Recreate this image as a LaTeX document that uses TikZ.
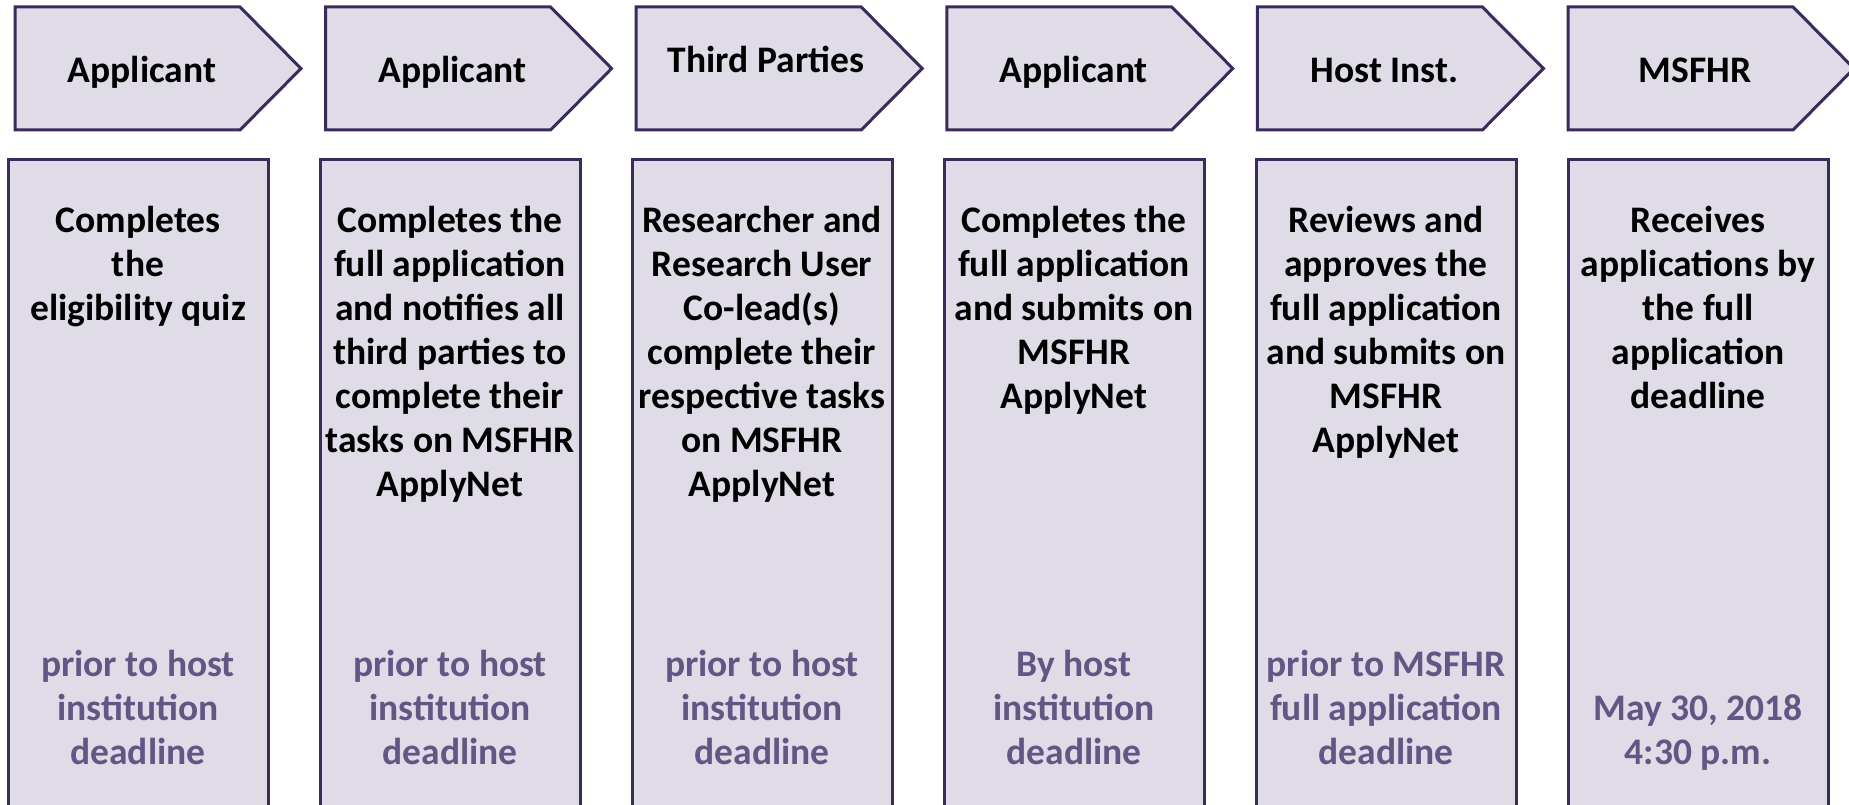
\documentclass[tikz,border=0pt]{standalone}
\usepackage{fontspec}
\setmainfont{Carlito}
\definecolor{boxfill}{HTML}{DFDBE7}
\definecolor{boxline}{HTML}{3B2A5C}
\definecolor{datecol}{HTML}{645684}
\tikzset{
  panel/.style={fill=boxfill, draw=boxline, line width=3pt, line join=miter},
  headtext/.style={font=\fontsize{37.5}{44}\selectfont\bfseries, inner sep=0pt, anchor=base},
  bodytext/.style={font=\fontsize{37.5}{44}\selectfont\bfseries, inner sep=0pt, anchor=north, align=center},
  datetext/.style={font=\fontsize{37.5}{44}\selectfont\bfseries, inner sep=0pt, anchor=south, align=center, text=datecol}
}
\begin{document}
\begin{tikzpicture}[x=1pt,y=-1pt]
\useasboundingbox (0,0) rectangle (1849,805);
\foreach \i in {0,...,5} {
  \pgfmathsetmacro\L{15+310.6*\i}
  \pgfmathsetmacro\B{8+312*\i}
  \draw[panel] (\L,7) -- (\L+225,7) -- (\L+286,68.5) -- (\L+225,130) -- (\L,130) -- cycle;
  \draw[panel] (\B,160) rectangle (\B+260,830);
}
% headers
\node[headtext] (h1) at (142,83) {Applicant};
\node[headtext] (h2) at (452.6,83) {Applicant};
\node[headtext] (h3) at (766,73) {Third Parties};
\node[headtext] (h4) at (1073.8,83) {Applicant};
\node[headtext] (h5) at (1384.4,83) {Host Inst.};
\node[headtext] (h6) at (1695,83) {MSFHR};
% body
\node[bodytext] (b1) at (138,201.2) {\strut Completes\\the\\eligibility quiz};
\node[bodytext] (b2) at (450,201.2) {\strut Completes the\\full application\\and notifies all\\third parties to\\complete their\\tasks on MSFHR\\ApplyNet};
\node[bodytext] (b3) at (762,201.2) {\strut Researcher and\\Research User\\Co-lead(s)\\complete their\\respective tasks\\on MSFHR\\ApplyNet};
\node[bodytext] (b4) at (1074,201.2) {\strut Completes the\\full application\\and submits on\\MSFHR\\ApplyNet};
\node[bodytext] (b5) at (1386,201.2) {\strut Reviews and\\approves the\\full application\\and submits on\\MSFHR\\ApplyNet};
\node[bodytext] (b6) at (1698,201.2) {\strut Receives\\applications by\\the full\\application\\deadline};
% dates
\node[datetext] (d1) at (138,777.7) {prior to host\\institution\\deadline\strut};
\node[datetext] (d2) at (450,777.7) {prior to host\\institution\\deadline\strut};
\node[datetext] (d3) at (762,777.7) {prior to host\\institution\\deadline\strut};
\node[datetext] (d4) at (1074,777.7) {By host\\institution\\deadline\strut};
\node[datetext] (d5) at (1386,777.7) {prior to MSFHR\\full application\\deadline\strut};
\node[datetext] (d6) at (1698,777.7) {May 30, 2018\\4:30 p.m.\strut};
\end{tikzpicture}
\end{document}
